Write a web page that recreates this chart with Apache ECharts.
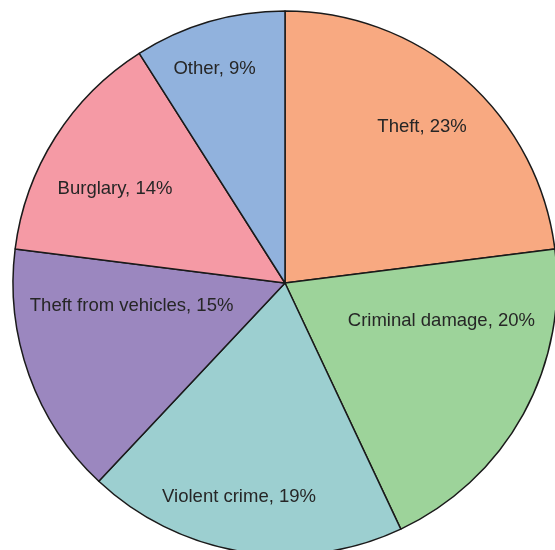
<!DOCTYPE html>
<html>
<head>
<meta charset="utf-8">
<title>Recorded crime by type</title>
<script src="https://cdn.jsdelivr.net/npm/echarts@6/dist/echarts.min.js"></script>
<style>
  html, body { margin: 0; padding: 0; background: #ffffff; }
  #chart { width: 555px; height: 550px; }
</style>
</head>
<body>
<div id="chart"></div>
<script>
// Crime categories and their share of recorded offences (%)
const categories = ['Theft', 'Criminal damage', 'Violent crime', 'Theft from vehicles', 'Burglary', 'Other'];
const shares = [23, 20, 19, 15, 14, 9];

// Slice fills, in category order
const sliceColors = ['#F8A981', '#9DD39A', '#9CCFD0', '#9B87BF', '#F59AA5', '#91B2DD'];

// Where each label sits, as an offset from the pie centre in units of the radius
const labelSpots = [
  [0.504, -0.574],
  [0.575, 0.139],
  [-0.169, 0.786],
  [-0.564, 0.084],
  [-0.625, -0.346],
  [-0.259, -0.787]
];

const CENTER = [285, 283];
const RADIUS = 272;

const chart = echarts.init(document.getElementById('chart'), null, { renderer: 'canvas' });

chart.setOption({
  animation: false,
  backgroundColor: '#ffffff',
  series: [{
    type: 'pie',
    center: CENTER,
    radius: RADIUS,
    startAngle: 90,
    clockwise: true,
    avoidLabelOverlap: false,
    emphasis: { disabled: true },
    itemStyle: { borderColor: '#1a1a1a', borderWidth: 1.5 },
    label: {
      show: true,
      position: 'inside',
      formatter: '{b}, {c}%',
      color: '#262626',
      fontFamily: 'Liberation Sans, Arial, sans-serif',
      fontSize: 18.5
    },
    labelLine: { show: false },
    labelLayout: function (params) {
      const spot = labelSpots[params.dataIndex];
      return {
        x: CENTER[0] + spot[0] * RADIUS,
        y: CENTER[1] + spot[1] * RADIUS,
        align: 'center',
        verticalAlign: 'middle'
      };
    },
    data: categories.map((name, i) => ({
      name: name,
      value: shares[i],
      itemStyle: { color: sliceColors[i] }
    }))
  }]
});
</script>
</body>
</html>
